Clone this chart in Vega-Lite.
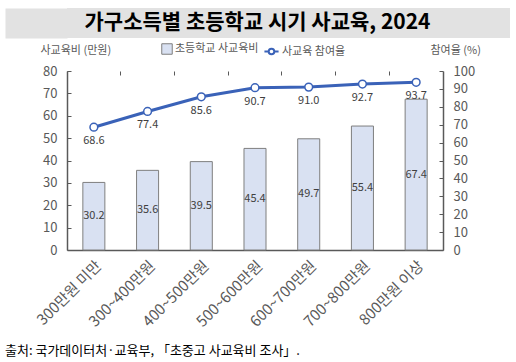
{
  "$schema": "https://vega.github.io/schema/vega-lite/v6.json",
  "padding": {"left": 5, "top": 8, "right": 5, "bottom": 5},
  "config": {"font": "Noto Sans CJK KR", "view": {"stroke": null}},
  "spacing": 5,
  "columns": 1,
  "align": "none",
  "title": {"text": "출처: 국가데이터처·교육부, 「초중고 사교육비 조사」.", "orient": "bottom", "anchor": "start", "frame": "bounds", "fontSize": 13, "fontWeight": "normal", "color": "#000000", "offset": 16},
  "concat": [
    {
      "width": 443,
      "height": 30,
      "view": {"fill": "#e2e2e2", "stroke": null},
      "data": {"values": [{"t": "가구소득별 초등학교 시기 사교육, 2024"}]},
      "mark": {"type": "text", "fontSize": 21, "fontWeight": "bold", "color": "#000000", "baseline": "middle", "align": "center", "dx": -31},
      "encoding": {
        "text": {"field": "t", "type": "nominal"},
        "y": {"datum": 0, "type": "quantitative", "scale": {"domain": [-1, 1]},
          "axis": {"orient": "left", "title": null, "labels": false, "ticks": false, "grid": false, "domainColor": "#e2e2e2", "domainWidth": 62, "offset": 31}}
      }
    },
    {
      "width": 376,
      "height": 179,
      "data": {"values": [
        {"g": "300만원 미만", "v": 30.2, "r": 68.6},
        {"g": "300~400만원", "v": 35.6, "r": 77.4},
        {"g": "400~500만원", "v": 39.5, "r": 85.6},
        {"g": "500~600만원", "v": 45.4, "r": 90.7},
        {"g": "600~700만원", "v": 49.7, "r": 91.0},
        {"g": "700~800만원", "v": 55.4, "r": 92.7},
        {"g": "800만원 이상", "v": 67.4, "r": 93.7}
      ]},
      "layer": [
        {
          "mark": {"type": "bar", "width": {"band": 0.41}, "stroke": "#7f7f7f", "strokeWidth": 1},
          "encoding": {
            "x": {"field": "g", "type": "nominal", "sort": null, "scale": {"paddingInner": 0, "paddingOuter": 0},
              "axis": {"title": null, "labelAngle": -45, "labelFontSize": 15, "labelColor": "#595959", "ticks": false, "labelPadding": 8, "domainColor": "#595959", "domainWidth": 1.5}},
            "y": {"field": "v", "type": "quantitative", "scale": {"domain": [0, 80]},
              "axis": {"orient": "left", "values": [0, 10, 20, 30, 40, 50, 60, 70, 80], "grid": false, "title": "사교육비 (만원)", "titleAngle": 0, "titleX": -27, "titleY": -21, "titleAlign": "left", "titleBaseline": "middle", "titleFontSize": 11, "titleFontWeight": "normal", "titleColor": "#595959", "labelFontSize": 13, "labelColor": "#595959", "tickSize": -4, "labelPadding": 14, "tickColor": "#595959", "domainColor": "#595959", "domainWidth": 1.5, "minExtent": 62}},
            "fill": {"datum": "초등학교 사교육비", "type": "nominal", "scale": {"range": ["#d9e1f2"]},
              "legend": {"title": null, "orient": "none", "legendX": 94, "legendY": -28, "symbolType": "square", "symbolSize": 110, "symbolStrokeColor": "#7f7f7f", "symbolStrokeWidth": 1, "labelFontSize": 11, "labelColor": "#595959", "labelOffset": 2}}
          }
        },
        {
          "mark": {"type": "line", "strokeWidth": 3, "point": {"filled": false, "fill": "white", "size": 60, "strokeWidth": 1.5}},
          "encoding": {
            "x": {"field": "g", "type": "nominal", "sort": null,
              "axis": {"title": null, "labels": false, "domain": false, "bandPosition": 0, "tickSize": -4, "tickColor": "#595959"}},
            "y": {"field": "r", "type": "quantitative", "scale": {"domain": [0, 100]},
              "axis": {"orient": "right", "values": [0, 10, 20, 30, 40, 50, 60, 70, 80, 90, 100], "grid": false, "title": "참여율 (%)", "titleAngle": 0, "titleX": -13, "titleY": -21, "titleAlign": "left", "titleBaseline": "middle", "titleFontSize": 11, "titleFontWeight": "normal", "titleColor": "#595959", "labelFontSize": 13, "labelColor": "#595959", "tickSize": -4, "labelPadding": 14, "tickColor": "#595959", "domainColor": "#595959", "domainWidth": 1.5}},
            "stroke": {"datum": "사교육 참여율", "type": "nominal", "scale": {"range": ["#3a62b8"]},
              "legend": {"title": null, "orient": "none", "legendX": 196, "legendY": -28, "symbolType": "M-1,0H-0.4M0.4,0H1M-0.4,0A0.4,0.4 0 1,1 0.4,0A0.4,0.4 0 1,1 -0.4,0", "symbolSize": 200, "symbolFillColor": "white", "symbolStrokeWidth": 2, "labelFontSize": 11, "labelColor": "#595959", "labelOffset": 2}}
          }
        },
        {
          "mark": {"type": "text", "fontSize": 11, "color": "#404040", "baseline": "middle"},
          "encoding": {
            "x": {"field": "g", "type": "nominal", "sort": null, "axis": null},
            "y": {"field": "v", "type": "quantitative", "scale": {"domain": [0, 160]}, "axis": null},
            "text": {"field": "v", "type": "quantitative", "format": ".1f"}
          }
        },
        {
          "mark": {"type": "text", "fontSize": 11, "color": "#404040", "baseline": "middle", "dy": 14},
          "encoding": {
            "x": {"field": "g", "type": "nominal", "sort": null, "axis": null},
            "y": {"field": "r", "type": "quantitative", "scale": {"domain": [0, 100]}, "axis": null},
            "text": {"field": "r", "type": "quantitative", "format": ".1f"}
          }
        }
      ],
      "resolve": {"scale": {"y": "independent", "fill": "independent", "stroke": "independent"}, "axis": {"x": "independent", "y": "independent"}}
    }
  ]
}
